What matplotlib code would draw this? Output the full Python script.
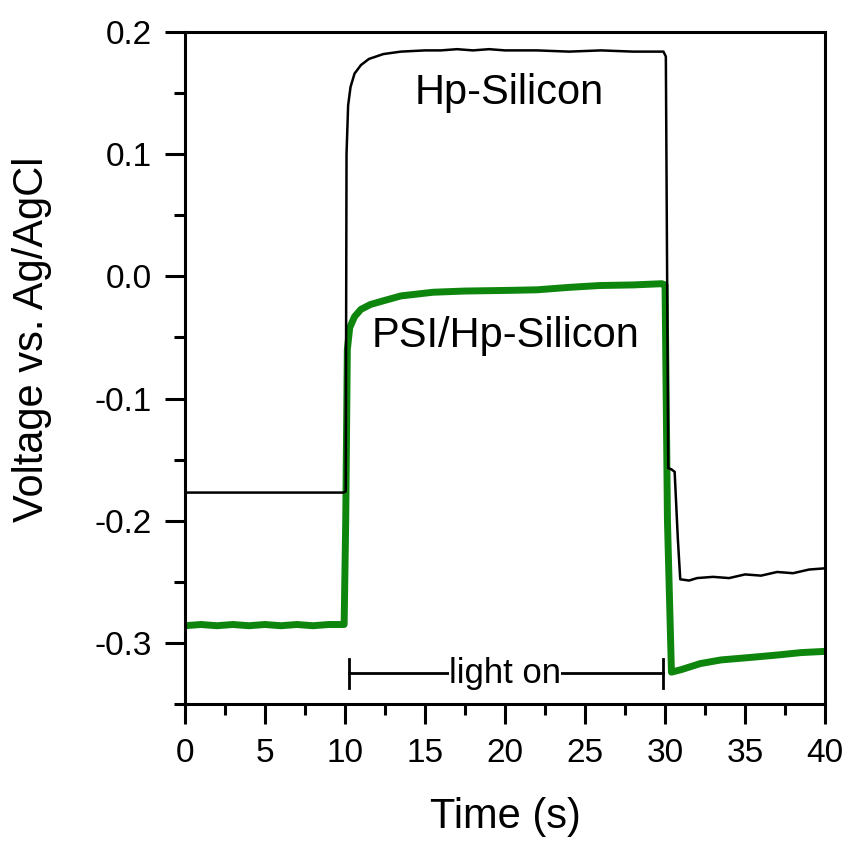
import numpy as np
import matplotlib.pyplot as plt
from matplotlib.ticker import MultipleLocator

plt.rcParams['font.family'] = ['Liberation Sans', 'DejaVu Sans']

# Hp-Silicon trace (black)
hpTime = [0, 2, 4, 6, 8, 9.9, 10.05, 10.1, 10.2, 10.35, 10.6, 11.0, 11.5, 12.4, 13.5, 15,
          16, 17, 18, 19, 20, 22, 24, 26, 28, 29.9, 30.05, 30.2, 30.4, 30.6, 30.8, 30.95,
          31.5, 32, 33, 34, 35, 36, 37, 38, 39, 40]
hpVolt = [-0.177, -0.177, -0.177, -0.177, -0.177, -0.177, -0.176, 0.10, 0.140, 0.155, 0.166,
          0.173, 0.178, 0.182, 0.184, 0.185, 0.185, 0.186, 0.185, 0.186, 0.185, 0.185, 0.184,
          0.185, 0.184, 0.184, 0.180, -0.157, -0.158, -0.160, -0.215, -0.248, -0.249, -0.247,
          -0.246, -0.247, -0.244, -0.245, -0.242, -0.243, -0.240, -0.239]

# PSI/Hp-Silicon trace (green)
psiTime = [0, 1, 2, 3, 4, 5, 6, 7, 8, 9, 9.95, 10.05, 10.15, 10.3, 10.6, 11.0, 11.6, 12.4,
           13.5, 15.5, 17.5, 20.1, 22, 24, 25.9, 28, 29.8, 30.0, 30.15, 30.4, 31, 32.2, 33.5,
           35.3, 37, 38.5, 40]
psiVolt = [-0.286, -0.285, -0.286, -0.285, -0.286, -0.285, -0.286, -0.285, -0.286, -0.285,
           -0.285, -0.20, -0.060, -0.042, -0.033, -0.027, -0.023, -0.020, -0.016, -0.013,
           -0.012, -0.0115, -0.011, -0.009, -0.0075, -0.007, -0.006, -0.007, -0.200, -0.324,
           -0.322, -0.317, -0.314, -0.312, -0.310, -0.308, -0.307]

lightStart = 10.25
lightEnd = 29.9
lightLevel = -0.325

fig = plt.figure(figsize=(8.48, 8.44), dpi=100)
ax = fig.add_axes([0.218, 0.166, 0.755, 0.796])

ax.plot(psiTime, psiVolt, color='#0e860e', linewidth=5, solid_joinstyle='round')
ax.plot(hpTime, hpVolt, color='black', linewidth=1.8)

# light on marker
ax.plot([lightStart, lightEnd], [lightLevel, lightLevel], color='black', linewidth=2)
ax.plot([lightStart, lightStart], [lightLevel - 0.012, lightLevel + 0.012], color='black', linewidth=2)
ax.plot([lightEnd, lightEnd], [lightLevel - 0.012, lightLevel + 0.012], color='black', linewidth=2)
ax.text(20, lightLevel, 'light on', ha='center', va='center', fontsize=25,
        bbox=dict(facecolor='white', edgecolor='none', pad=0))

ax.text(20.25, 0.150, 'Hp-Silicon', ha='center', va='center', fontsize=30)
ax.text(20.06, -0.049, 'PSI/Hp-Silicon', ha='center', va='center', fontsize=30)

ax.set_xlim(0, 40)
ax.set_ylim(-0.35, 0.2)
ax.xaxis.set_major_locator(MultipleLocator(5))
ax.xaxis.set_minor_locator(MultipleLocator(2.5))
ax.yaxis.set_minor_locator(MultipleLocator(0.05))
ax.set_yticks([-0.3, -0.2, -0.1, 0.0, 0.1, 0.2])
ax.set_yticklabels(['-0.3', '-0.2', '-0.1', '0.0', '0.1', '0.2'])

ax.tick_params(which='major', direction='out', length=14.5, width=2.2, labelsize=24)
ax.tick_params(which='minor', direction='out', length=8, width=2.2)
ax.tick_params(axis='x', which='major', pad=10)
ax.tick_params(axis='y', which='major', pad=9)
for s in ax.spines.values():
    s.set_linewidth(2.2)

ax.set_xlabel('Time (s)', fontsize=30)
ax.set_ylabel('Voltage vs. Ag/AgCl', fontsize=30)
ax.xaxis.set_label_coords(0.5, -0.138)
ax.yaxis.set_label_coords(-0.208, 0.543)

plt.savefig('out.png', dpi=100)
plt.close()
